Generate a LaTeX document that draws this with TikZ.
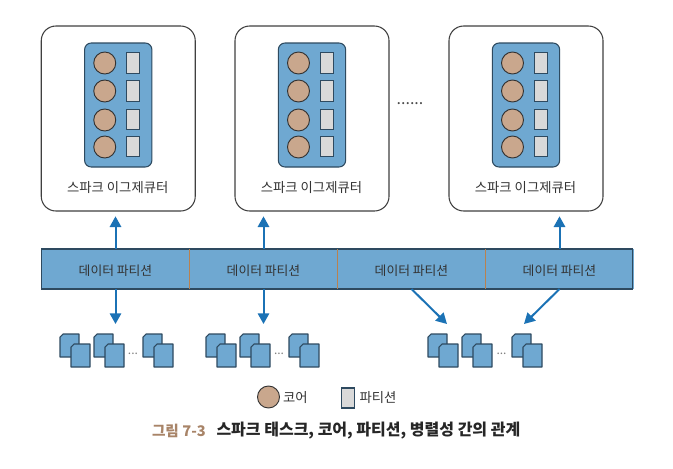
\documentclass[tikz,border=0pt]{standalone}
\usepackage{fontspec}
\setmainfont{Noto Sans CJK KR}
\usetikzlibrary{arrows.meta}
\definecolor{panelblue}{HTML}{6FA8D1}
\definecolor{edgedark}{HTML}{2E4A60}
\definecolor{arrowblue}{HTML}{1B72B5}
\definecolor{corefill}{HTML}{C9A78D}
\definecolor{partfill}{HTML}{D9D9D9}
\definecolor{divider}{HTML}{B9814F}
\definecolor{capbrown}{HTML}{A88468}
\definecolor{txt}{HTML}{333333}
\tikzset{
  every node/.style={inner sep=0pt,outer sep=0pt,text=txt,font=\fontsize{10}{12}\selectfont},
  exec/.style={draw=black!75,line width=.8pt,fill=white,rounded corners=11pt,minimum width=115.5pt,minimum height=138.75pt},
  panel/.style={draw=edgedark,line width=.8pt,fill=panelblue,rounded corners=5pt,minimum width=50.5pt,minimum height=93pt},
  core/.style={circle,draw=black!80,line width=.7pt,fill=corefill,minimum size=16.5pt},
  part/.style={draw=edgedark,line width=.8pt,fill=partfill,minimum width=9.75pt,minimum height=15.5pt},
  dpart/.style={fill=panelblue,minimum width=111pt,minimum height=30pt,font=\fontsize{9.6}{12}\selectfont},
  doc/.style={draw=edgedark,line width=.8pt,fill=panelblue,line join=round},
  flow/.style={-{Triangle[length=8pt,width=8.5pt]},draw=arrowblue,line width=1.5pt},
  tinydots/.style={text=black!50,font=\fontsize{9}{10}\selectfont},
}
\newcommand{\docpair}[2]{%
  \draw[doc] (#1+3,#2) -- (#1+19,#2) -- (#1+19,#2+23) -- (#1,#2+23) -- (#1,#2+3) -- cycle;
  \draw[doc] (#1+14,#2+10) -- (#1+30,#2+10) -- (#1+30,#2+33) -- (#1+11,#2+33) -- (#1+11,#2+13) -- cycle;
}
\begin{document}
\begin{tikzpicture}[x=.75pt,y=-.75pt]
\useasboundingbox (0,0) rectangle (673,468);
% executors
\foreach \i/\cx in {1/118.25,2/312,3/526}{
  \node[exec] (ex\i) at (\cx,118.5) {};
  \node[panel] (pan\i) at (\cx,105) {};
  \foreach \j/\cy/\ry in {1/63/62.7,2/91/91,3/120/119.5,4/147/146.5}{
    \node[core] (core\i\j) at (\cx-13.5,\cy) {};
    \node[part] (par\i\j) at (\cx+15,\ry) {};
  }
  \node (lab\i) at (\cx-0.5,187.5) {스파크 이그제큐터};
}
\node[font=\fontsize{12}{14}\selectfont,text=black!70] (more) at (410,104) {......};
% data partitions
\node[dpart] (d1) at (115.5,269) {};
\node[dpart] (d2) at (263.5,269) {};
\node[dpart] (d3) at (411.5,269) {};
\node[dpart] (d4) at (559.5,269) {};
\node (bar) at (337.25,269) [draw=edgedark,line width=.8pt,minimum width=443.25pt,minimum height=30pt] {};
\draw[divider,line width=.9pt] (d1.north east) -- (d1.south east);
\draw[divider,line width=.9pt] (d2.north east) -- (d2.south east);
\draw[divider,line width=.9pt] (d3.north east) -- (d3.south east);
\foreach \k in {1,2,3,4}{\node[font=\fontsize{9.6}{12}\selectfont] at ([yshift=-1pt]d\k.center) {데이터 파티션};}
% connectors up
\draw[flow,shorten >=4pt] (d1.north) -- (d1.north |- ex1.south);
\draw[flow,shorten >=4pt] (d2.north) -- (d2.north |- ex2.south);
\draw[flow,shorten >=4pt] (d4.north) -- (d4.north |- ex3.south);
% task stacks
\docpair{60}{334}\docpair{94}{334}\docpair{143}{334}
\docpair{206}{334}\docpair{240}{334}\docpair{289}{334}
\docpair{428}{334}\docpair{462}{334}\docpair{512}{334}
\node[tinydots] (dots1) at (133,354) {...};
\node[tinydots] (dots2) at (279,354) {...};
\node[tinydots] (dots3) at (501.5,354) {...};
\coordinate (g1) at (115.5,324);
\coordinate (g2) at (263.5,324);
\coordinate (g3) at (447,324);
\coordinate (g4) at (524,324);
\draw[flow] (d1.south) -- (g1);
\draw[flow] (d2.south) -- (g2);
\draw[flow] (d3.south) -- (g3);
\draw[flow] (d4.south) -- (g4);
% legend
\node[core] (lc) at (268.5,397) {};
\node[anchor=west] (lct) at (283,397.5) {코어};
\node[part,minimum height=15pt] (lp) at (347.8,398) {};
\node[anchor=west] (lpt) at (359.5,397) {파티션};
% caption
\node[anchor=west,text=capbrown,font=\fontsize{11}{13}\selectfont\bfseries] (capa) at (152,431) {그림 7-3};
\node[anchor=west,text=black!85,font=\fontsize{12}{14}\selectfont\bfseries] (capb) at (216.5,431) {스파크 태스크, 코어, 파티션, 병렬성 간의 관계};
\end{tikzpicture}
\end{document}
